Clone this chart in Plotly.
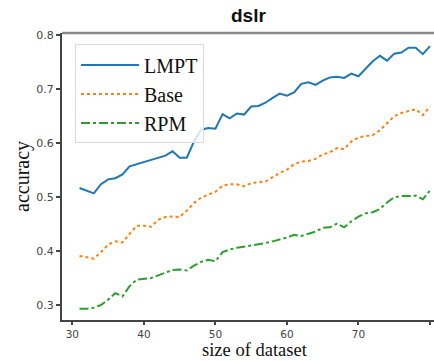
import plotly.graph_objects as go

x_vals = list(range(31, 81))

lmpt = [0.517, 0.512, 0.507, 0.524, 0.533, 0.535, 0.542, 0.557, 0.561, 0.565,
        0.569, 0.573, 0.577, 0.585, 0.573, 0.573, 0.603, 0.625, 0.628, 0.627,
        0.654, 0.646, 0.655, 0.653, 0.668, 0.669, 0.675, 0.684, 0.692, 0.688,
        0.694, 0.710, 0.713, 0.708, 0.716, 0.722, 0.723, 0.721, 0.729, 0.724,
        0.738, 0.752, 0.762, 0.753, 0.766, 0.768, 0.777, 0.777, 0.765, 0.780]

base = [0.391, 0.388, 0.386, 0.398, 0.412, 0.418, 0.416, 0.432, 0.447, 0.447,
        0.445, 0.458, 0.463, 0.464, 0.463, 0.475, 0.489, 0.499, 0.505, 0.510,
        0.521, 0.524, 0.524, 0.520, 0.526, 0.527, 0.529, 0.537, 0.545, 0.551,
        0.561, 0.566, 0.567, 0.571, 0.579, 0.583, 0.591, 0.589, 0.603, 0.611,
        0.613, 0.615, 0.624, 0.638, 0.650, 0.656, 0.659, 0.663, 0.652, 0.668]

rpm = [0.293, 0.293, 0.295, 0.300, 0.310, 0.322, 0.316, 0.335, 0.347, 0.348,
       0.350, 0.355, 0.360, 0.365, 0.366, 0.364, 0.373, 0.380, 0.384, 0.381,
       0.398, 0.403, 0.406, 0.408, 0.410, 0.413, 0.415, 0.418, 0.421, 0.425,
       0.430, 0.428, 0.432, 0.436, 0.443, 0.444, 0.451, 0.444, 0.455, 0.464,
       0.470, 0.472, 0.478, 0.490, 0.500, 0.502, 0.502, 0.503, 0.496, 0.512]

x_ticks = [30, 40, 50, 60, 70, 80]
y_ticks = [0.3, 0.4, 0.5, 0.6, 0.7, 0.8]

fig = go.Figure()
fig.add_trace(go.Scatter(x=x_vals, y=lmpt, mode="lines", name="LMPT",
                         line=dict(color="#1f77b4", width=2, dash="solid")))
fig.add_trace(go.Scatter(x=x_vals, y=base, mode="lines", name="Base",
                         line=dict(color="#ff7f0e", width=2, dash="dot")))
fig.add_trace(go.Scatter(x=x_vals, y=rpm, mode="lines", name="RPM",
                         line=dict(color="#2ca02c", width=2, dash="dashdot")))

axis_common = dict(showgrid=False, zeroline=False, showline=True, linecolor="#444444",
                   linewidth=2, ticks="outside", tickwidth=1.5, tickcolor="#444444")

fig.update_xaxes(range=[28.55, 80.56], tickvals=x_ticks, ticklen=3,
                 ticktext=[str(v) for v in x_ticks],
                 tickfont=dict(family="DejaVu Sans", size=10.5, color="#444444"),
                 **axis_common)
fig.update_yaxes(range=[0.2722, 0.8043], tickvals=y_ticks, ticklen=4,
                 ticktext=[f"{v:.1f}" for v in y_ticks],
                 tickfont=dict(family="DejaVu Sans", size=11, color="#444444"),
                 **axis_common)

fig.update_layout(
    width=434, height=361,
    margin=dict(l=62, r=0, t=33, b=41),
    plot_bgcolor="white", paper_bgcolor="white",
    showlegend=True,
    legend=dict(x=0.035, y=0.96, xanchor="left", yanchor="top", itemwidth=58,
                bgcolor="rgba(255,255,255,0.8)", bordercolor="#d9d9d9", borderwidth=1,
                font=dict(family="Liberation Serif", size=20, color="#111111")),
    shapes=[dict(type="line", xref="paper", yref="paper", x0=0, x1=1, y0=1, y1=1,
                 line=dict(color="#8a8a8a", width=2.5))],
    annotations=[
        dict(text="<b>dslr</b>", xref="paper", yref="paper", x=0.5, y=1.0,
             xanchor="center", yanchor="bottom", yshift=5, showarrow=False,
             font=dict(family="Liberation Sans", size=19, color="#111111")),
        dict(text="size of dataset", xref="paper", yref="paper", x=0.5, y=0,
             xanchor="center", yanchor="bottom", yshift=-41, xshift=7, showarrow=False,
             borderpad=0,
             font=dict(family="Liberation Serif", size=18.5, color="#111111")),
        dict(text="accuracy", xref="paper", yref="paper", x=0, y=0.5,
             xanchor="right", yanchor="middle", xshift=-26, textangle=-90, showarrow=False,
             font=dict(family="Liberation Serif", size=20, color="#111111")),
    ],
)

fig.write_html("out.html")
